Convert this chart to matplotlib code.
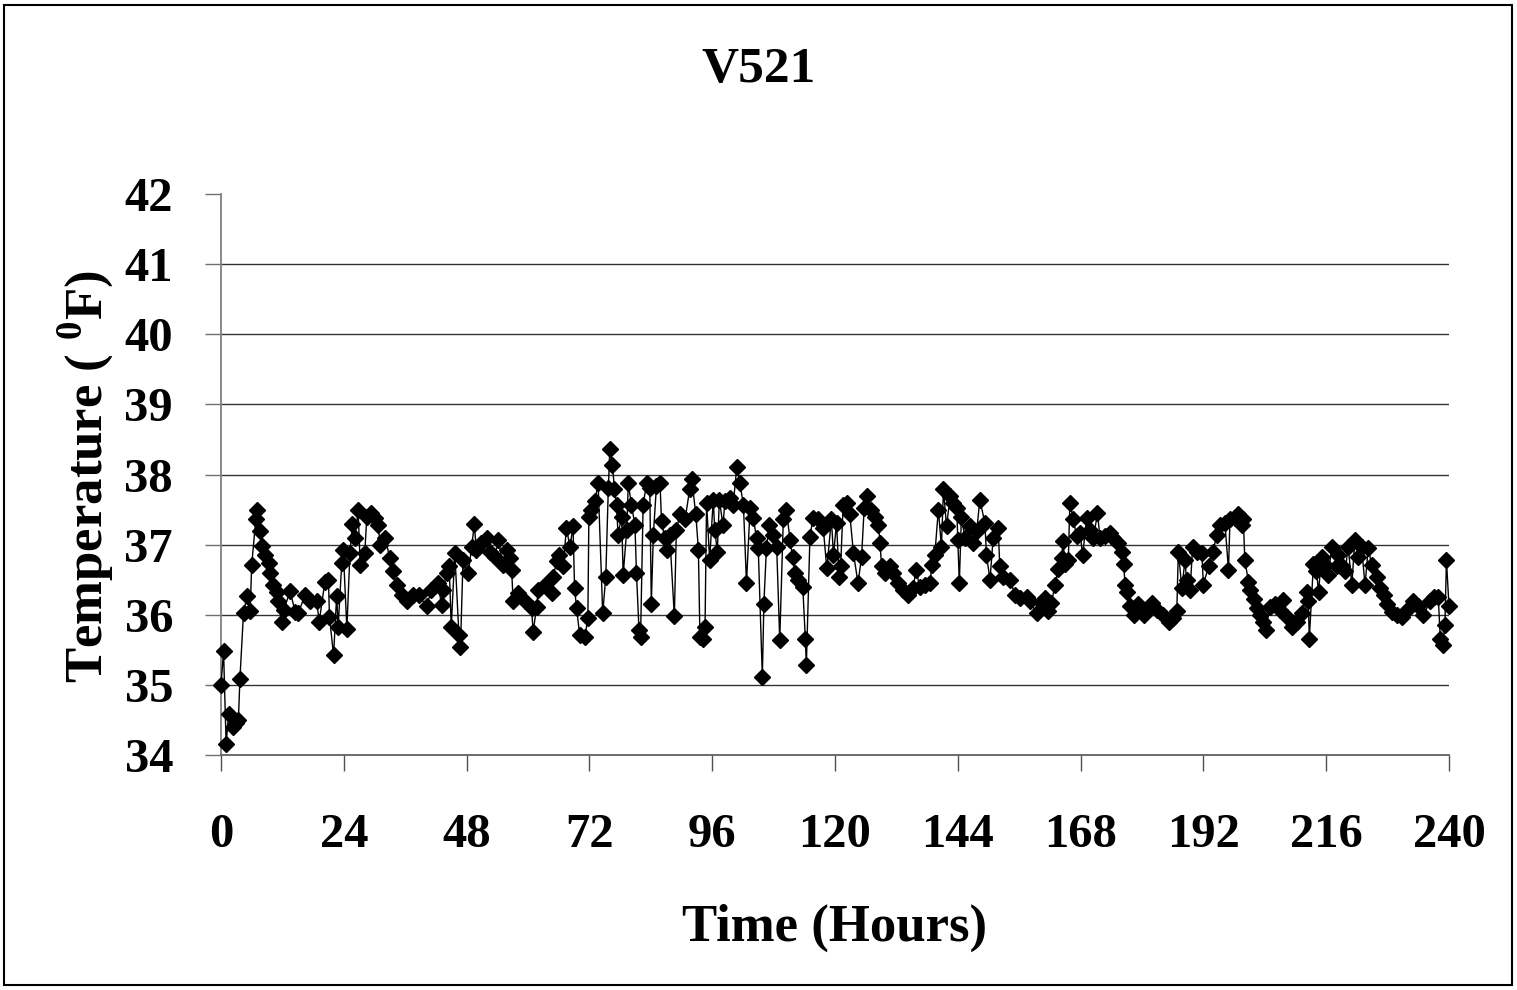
import matplotlib
matplotlib.use("Agg")
import matplotlib.pyplot as plt
from matplotlib.patches import Rectangle

# DATA
hours = [
    0.0, 0.5, 1.0, 1.5, 2.4, 3.0, 3.4, 3.7, 4.4, 5.1, 5.7, 6.0, 6.8, 7.0, 7.6, 8.1,
    8.6, 9.3, 9.6, 10.1, 10.9, 11.2, 11.9, 12.3, 13.5, 14.5, 15.1, 16.4, 17.4, 18.7, 19.2, 20.3,
    21.0, 21.2, 22.0, 22.6, 22.9, 23.6, 23.9, 24.6, 25.2, 25.7, 26.2, 26.8, 27.2, 28.1, 28.5, 29.4,
    30.1, 30.7, 31.1, 32.1, 33.0, 33.6, 34.3, 35.3, 36.3, 37.6, 38.6, 40.2, 41.1, 42.4, 43.1, 43.4,
    44.1, 44.6, 45.0, 45.7, 46.5, 46.8, 47.3, 48.3, 49.0, 49.5, 49.9, 50.9, 51.9, 52.5, 53.5, 54.2,
    55.1, 55.8, 56.4, 56.8, 57.1, 58.1, 59.4, 60.7, 61.0, 61.7, 62.0, 63.3, 64.6, 64.9, 65.6, 66.1,
    66.9, 67.5, 68.2, 68.8, 69.1, 69.5, 70.1, 71.1, 71.7, 71.9, 72.4, 73.1, 73.7, 74.6, 75.2, 75.7,
    76.0, 76.5, 76.9, 77.3, 77.6, 78.3, 78.6, 79.3, 79.6, 80.2, 80.9, 81.2, 81.7, 82.0, 82.5, 83.2,
    83.8, 84.1, 84.5, 85.1, 85.8, 86.1, 86.7, 87.1, 87.7, 88.6, 89.0, 89.7, 90.7, 91.6, 92.0, 92.8,
    93.3, 93.6, 94.2, 94.6, 94.9, 95.5, 96.2, 96.5, 97.0, 97.4, 98.1, 98.5, 99.5, 100.1, 100.8, 101.4,
    102.1, 102.7, 103.4, 104.0, 104.7, 105.0, 105.8, 106.1, 106.6, 107.1, 107.9, 108.6, 109.2, 109.9, 110.5, 111.2,
    111.7, 112.2, 112.8, 113.7, 114.2, 114.4, 115.1, 115.7, 116.7, 117.7, 118.4, 119.3, 119.7, 120.3, 120.8, 121.1,
    121.6, 122.3, 122.9, 123.6, 124.5, 125.2, 125.7, 126.2, 127.1, 127.8, 128.5, 128.8, 129.1, 129.8, 130.7, 131.4,
    132.4, 133.3, 134.3, 135.3, 135.8, 136.6, 137.6, 138.6, 138.9, 139.5, 140.2, 140.8, 141.2, 141.8, 142.5, 143.1,
    143.8, 144.0, 144.3, 144.7, 145.4, 146.4, 147.0, 147.7, 148.3, 149.3, 149.6, 150.3, 150.9, 151.9, 152.2, 152.9,
    154.2, 155.2, 156.2, 157.5, 158.1, 159.4, 160.4, 161.0, 161.7, 162.3, 163.0, 163.6, 164.3, 164.6, 164.9, 165.6,
    165.9, 166.6, 167.2, 167.9, 168.4, 169.2, 169.8, 170.5, 171.3, 171.8, 172.8, 173.7, 174.4, 175.4, 176.0, 176.4,
    176.7, 177.0, 177.7, 178.4, 179.3, 180.3, 180.9, 181.9, 182.9, 184.2, 185.3, 186.1, 186.8, 187.1, 187.8, 188.4,
    188.7, 189.4, 189.9, 190.7, 191.7, 192.0, 193.0, 193.9, 194.6, 195.2, 196.2, 196.9, 197.2, 198.2, 198.8, 199.5,
    199.8, 200.1, 200.8, 201.1, 201.8, 202.4, 203.1, 203.7, 204.2, 205.0, 206.0, 207.0, 207.6, 208.3, 209.3, 210.2,
    211.2, 212.2, 212.5, 212.7, 213.5, 214.1, 214.5, 215.1, 215.8, 216.4, 217.1, 218.1, 218.4, 219.0, 219.7, 220.3,
    221.0, 221.6, 222.3, 222.9, 223.6, 224.2, 224.9, 225.9, 226.5, 227.2, 227.8, 228.8, 229.8, 230.8, 231.7, 233.0,
    234.0, 235.0, 236.3, 237.0, 237.9, 238.3, 238.8, 239.2, 239.5, 240.0,
]

temperature = [
    35.0, 35.48, 34.16, 34.59, 34.4, 34.45, 34.5, 35.09, 36.03, 36.27, 36.06, 36.71, 37.36, 37.49, 37.19, 36.98,
    36.85, 36.74, 36.59, 36.42, 36.33, 36.19, 35.9, 36.07, 36.34, 36.04, 36.02, 36.28, 36.19, 36.19, 35.9, 36.47,
    36.5, 35.97, 35.42, 36.27, 35.83, 36.74, 36.92, 35.8, 36.88, 37.3, 37.1, 37.5, 36.71, 36.88, 37.4, 37.45,
    37.38, 37.28, 37.0, 37.09, 36.81, 36.62, 36.42, 36.28, 36.19, 36.28, 36.28, 36.12, 36.35, 36.45, 36.14, 36.35,
    36.59, 36.69, 35.83, 36.88, 35.71, 35.54, 36.78, 36.59, 36.97, 37.29, 36.93, 37.02, 37.09, 36.9, 36.83, 37.07,
    36.71, 36.93, 36.81, 36.64, 36.19, 36.31, 36.19, 36.09, 35.76, 36.11, 36.35, 36.42, 36.31, 36.54, 36.76, 36.85,
    36.69, 37.24, 36.97, 37.26, 36.38, 36.09, 35.71, 35.68, 35.95, 37.4, 37.5, 37.62, 37.88, 36.02, 36.54, 37.81,
    38.37, 38.14, 37.79, 37.57, 37.14, 37.4, 36.57, 37.21, 37.88, 37.57, 37.28, 36.59, 35.78, 35.68, 37.57, 37.88,
    37.81, 36.16, 37.14, 37.83, 37.88, 37.33, 37.09, 36.93, 37.14, 35.98, 37.21, 37.43, 37.36, 37.79, 37.93, 37.43,
    36.93, 35.68, 35.65, 35.83, 37.6, 36.78, 37.64, 37.21, 36.9, 37.64, 37.28, 37.62, 37.67, 37.57, 38.1, 37.88,
    37.57, 36.45, 37.52, 37.38, 37.09, 36.95, 35.11, 36.16, 36.95, 37.28, 37.14, 36.97, 35.64, 37.36, 37.5, 37.07,
    36.83, 36.59, 36.5, 36.4, 35.66, 35.28, 37.11, 37.38, 37.36, 37.24, 36.66, 37.36, 36.85, 37.31, 36.54, 36.69,
    37.57, 37.6, 37.43, 36.88, 36.45, 36.83, 37.52, 37.69, 37.5, 37.4, 37.28, 37.02, 36.69, 36.59, 36.69, 36.59,
    36.45, 36.35, 36.28, 36.38, 36.64, 36.4, 36.42, 36.45, 36.71, 36.85, 37.5, 36.97, 37.79, 37.26, 37.69, 37.6,
    37.52, 37.07, 36.45, 37.4, 37.09, 37.26, 37.02, 37.19, 37.64, 37.31, 36.85, 36.5, 37.09, 37.24, 36.69, 36.54,
    36.5, 36.28, 36.24, 36.26, 36.19, 36.02, 36.17, 36.24, 36.05, 36.17, 36.43, 36.65, 36.81, 37.05, 36.72, 36.78,
    37.59, 37.36, 37.12, 37.16, 36.85, 37.38, 37.21, 37.09, 37.45, 37.09, 37.12, 37.16, 37.09, 37.02, 36.9, 36.72,
    36.43, 36.33, 36.12, 36.0, 36.15, 36.0, 36.07, 36.17, 36.07, 36.0, 35.9, 35.95, 36.05, 36.9, 36.38, 36.78,
    36.5, 36.35, 36.97, 36.9, 36.88, 36.43, 36.69, 36.9, 37.14, 37.28, 37.31, 36.64, 37.36, 37.38, 37.43, 37.28,
    37.36, 36.78, 36.47, 36.35, 36.23, 36.09, 35.99, 35.9, 35.78, 36.11, 36.16, 36.07, 36.21, 35.97, 35.83, 35.9,
    36.02, 36.33, 36.19, 35.66, 36.72, 36.62, 36.33, 36.83, 36.71, 36.57, 36.97, 36.69, 36.85, 36.69, 36.62, 36.97,
    36.43, 37.06, 36.83, 36.97, 36.42, 36.95, 36.71, 36.54, 36.38, 36.28, 36.16, 36.04, 35.99, 35.97, 36.07, 36.19,
    36.12, 35.99, 36.19, 36.26, 36.26, 35.66, 35.57, 35.86, 36.78, 36.12,
]

x_ticks = list(range(0, 241, 24))
y_ticks = list(range(34, 43))

# STYLE
plt.rcParams["font.family"] = ["Liberation Serif", "DejaVu Serif"]
plt.rcParams["font.weight"] = "bold"
plt.rcParams["mathtext.fontset"] = "custom"
plt.rcParams["mathtext.rm"] = "Liberation Serif:bold"
plt.rcParams["mathtext.bf"] = "Liberation Serif:bold"

fig = plt.figure(figsize=(15.17, 9.9), dpi=100)
ax = fig.add_axes([221 / 1517, 1 - 755 / 990, 1228 / 1517, 561 / 990])

ax.plot(hours, temperature, color="black", linewidth=1.0,
        marker="D", markersize=8.5, markerfacecolor="black",
        markeredgecolor="black", clip_on=False, zorder=3)

ax.set_xlim(0, 240)
ax.set_ylim(34, 42)
ax.set_xticks(x_ticks)
ax.set_yticks(y_ticks)
ax.tick_params(axis="both", labelsize=35, length=11.5, width=1.0, direction="out")
ax.tick_params(axis="y", pad=23, colors="#707070", labelcolor="black")
ax.tick_params(axis="x", pad=30, colors="#505050", labelcolor="black")

for side in ["top", "right"]:
    ax.spines[side].set_visible(False)
ax.spines["left"].set_color("#808080")
ax.spines["bottom"].set_color("#606060")
ax.spines["left"].set_linewidth(1.3)
ax.spines["bottom"].set_linewidth(1.3)

ax.yaxis.grid(True, color="#333333", linewidth=1.0)
ax.set_axisbelow(True)
gl = ax.yaxis.get_gridlines()
gl[0].set_visible(False)
gl[-1].set_visible(False)

fig.text(0.5, 1 - 70 / 990, "V521", ha="center", va="center", fontsize=37, fontweight="bold")
fig.text(835 / 1517, 1 - 928 / 990, "Time (Hours)", ha="center", va="center",
         fontsize=38, fontweight="bold")
fig.text(86 / 1517, 1 - 477 / 990, r"Temperature ( $^{\mathbf{0}}$F)", ha="center", va="center",
         rotation=90, fontsize=38, fontweight="bold")

# figure border
fig.patches.append(Rectangle((4 / 1517, 5 / 990), 1508 / 1517, 980 / 990,
                             transform=fig.transFigure, fill=False,
                             edgecolor="black", linewidth=1.5))

fig.savefig("out.png", dpi=100)
